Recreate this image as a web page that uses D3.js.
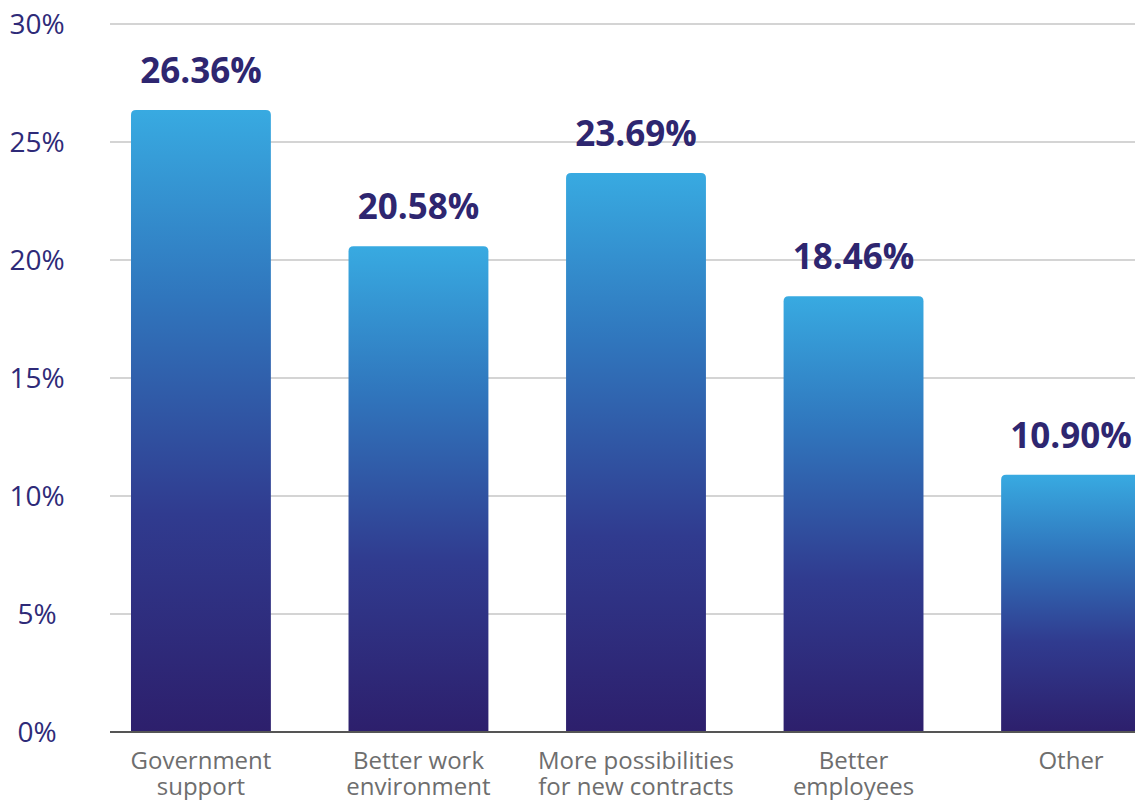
<!DOCTYPE html>
<html>
<head>
<meta charset="utf-8">
<script src="https://cdn.jsdelivr.net/npm/d3@7"></script>
<style>
  html, body { margin: 0; padding: 0; background: #ffffff; }
  svg { display: block; }
</style>
</head>
<body>
<svg id="chart" width="1135" height="800"></svg>
<script>
// Survey results: share of responses per category
const categories = [
  ["Government", "support"],
  ["Better work", "environment"],
  ["More possibilities", "for new contracts"],
  ["Better", "employees"],
  ["Other"]
];
const shares = [26.36, 20.58, 23.69, 18.46, 10.90];
const yTicks = [0, 5, 10, 15, 20, 25, 30];

const svg = d3.select("#chart");
const W = 1135, H = 800;

const x = d3.scaleBand()
  .domain(d3.range(categories.length))
  .range([110, 1162])
  .paddingInner(0.357)
  .paddingOuter(0.0965);

const y = d3.scaleLinear()
  .domain([0, 30])
  .range([732, 24]);

// gradient fill for the bars
const defs = svg.append("defs");
const grad = defs.append("linearGradient")
  .attr("id", "barGrad")
  .attr("x1", 0).attr("y1", 1).attr("x2", 0).attr("y2", 0);
grad.append("stop").attr("offset", "0%").attr("stop-color", "#2d1f6c");
grad.append("stop").attr("offset", "35%").attr("stop-color", "#303b8f");
grad.append("stop").attr("offset", "70%").attr("stop-color", "#3076bd");
grad.append("stop").attr("offset", "100%").attr("stop-color", "#38aae1");

// horizontal gridlines
svg.append("g")
  .selectAll("line")
  .data(yTicks.filter(d => d > 0))
  .join("line")
  .attr("x1", 110).attr("x2", W)
  .attr("y1", d => y(d)).attr("y2", d => y(d))
  .attr("stroke", "#d4d4d4")
  .attr("stroke-width", 2);

// y-axis labels
svg.append("g")
  .selectAll("text")
  .data(yTicks)
  .join("text")
  .attr("x", 37)
  .attr("y", d => y(d))
  .attr("dy", "0.36em")
  .attr("text-anchor", "middle")
  .attr("font-family", "'Open Sans', sans-serif")
  .attr("font-size", 28)
  .attr("fill", "#2e2a78")
  .text(d => d + "%");

// bars with slightly rounded top corners
const r = 5;
function barPath(x0, w, yTop, yBase) {
  return `M${x0},${yBase}V${yTop + r}Q${x0},${yTop} ${x0 + r},${yTop}` +
         `H${x0 + w - r}Q${x0 + w},${yTop} ${x0 + w},${yTop + r}V${yBase}Z`;
}
svg.append("g")
  .selectAll("path")
  .data(shares)
  .join("path")
  .attr("d", (d, i) => barPath(x(i), x.bandwidth(), y(d), y(0)))
  .attr("fill", "url(#barGrad)");

// value labels
svg.append("g")
  .selectAll("text")
  .data(shares)
  .join("text")
  .attr("x", (d, i) => x(i) + x.bandwidth() / 2)
  .attr("y", d => y(d) - 27)
  .attr("text-anchor", "middle")
  .attr("font-family", "'Open Sans', sans-serif")
  .attr("font-weight", "bold")
  .attr("font-size", 35)
  .attr("fill", "#2e2670")
  .text(d => d.toFixed(2) + "%");

// baseline
svg.append("line")
  .attr("x1", 110).attr("x2", W)
  .attr("y1", y(0)).attr("y2", y(0))
  .attr("stroke", "#555555")
  .attr("stroke-width", 2);

// category labels
const cat = svg.append("g")
  .selectAll("text")
  .data(categories)
  .join("text")
  .attr("text-anchor", "middle")
  .attr("font-family", "'Open Sans', sans-serif")
  .attr("font-size", 24)
  .attr("fill", "#6e6e6e");
cat.each(function(lines, i) {
  const t = d3.select(this);
  lines.forEach((ln, k) => {
    t.append("tspan")
      .attr("x", x(i) + x.bandwidth() / 2)
      .attr("y", 769 + k * 26)
      .text(ln);
  });
});
</script>
</body>
</html>
